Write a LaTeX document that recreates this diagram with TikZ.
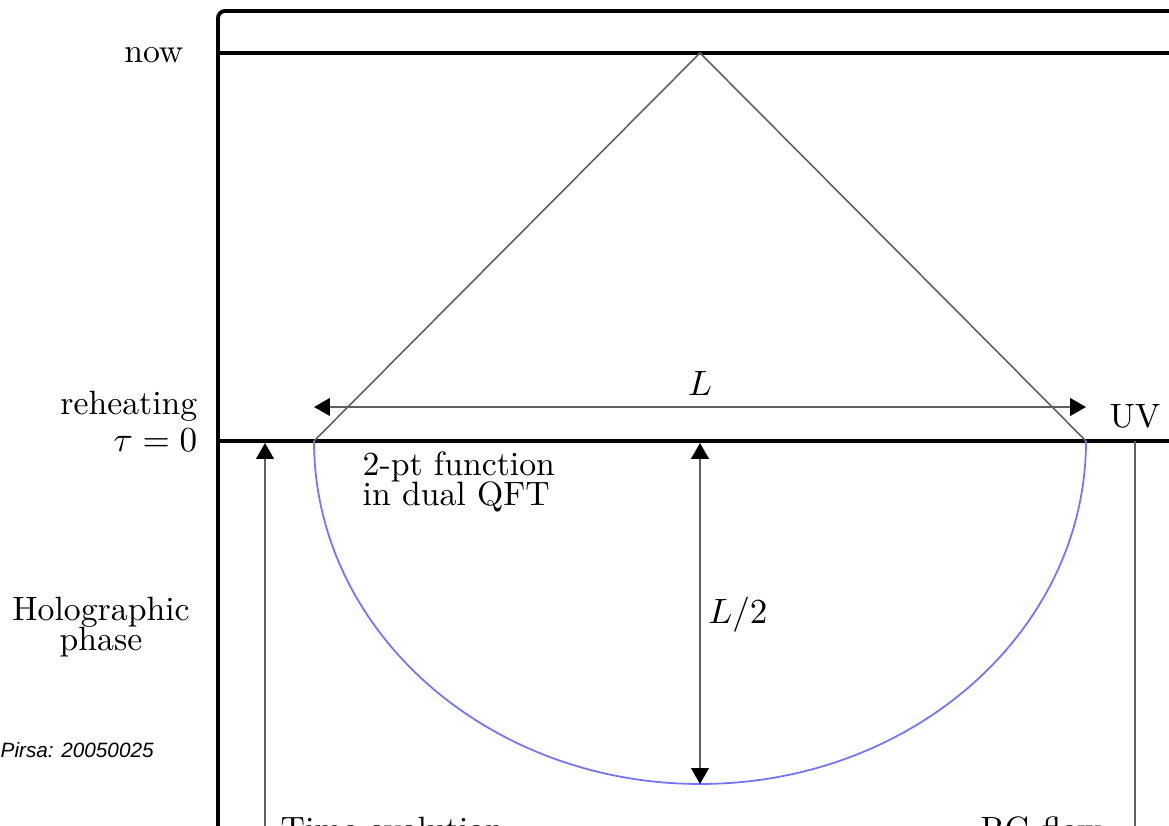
\documentclass[tikz,border=0pt]{standalone}
\usepackage{amsmath}
\usepackage{fontspec}
\newfontfamily\pirsafont{Liberation Sans}
\usetikzlibrary{arrows.meta}
\newcommand\tightlines{\lineskiplimit=-10pt\lineskip=0pt\relax}

\begin{document}
\begin{tikzpicture}[
    >={Triangle[length=4.5pt, width=5pt, color=black]},
    txt/.style={font=\fontsize{9.6pt}{8.6pt}\selectfont\tightlines, inner sep=0pt},
    era/.style={line width=1.1pt, black},
    cone/.style={line width=0.45pt, gray!75!black},
    dimarrow/.style={<->, line width=0.5pt, gray!75!black},
    flowline/.style={line width=0.5pt, gray!75!black},
    bulk/.style={line width=0.5pt, blue!55}
]
\clip (0,0) rectangle (11.69,8.26);

% ==========================================
% Frame & time slices
% ==========================================
\coordinate (corner) at (2.18, 8.15);
\coordinate (nowL) at (2.18, 7.73);
\coordinate (reheatL) at (2.18, 3.85);
\draw[era, rounded corners=2pt] (2.18, -0.5) -- (corner) -- (12.0, 8.15);
\draw[era] (nowL) -- (12.0, 7.73);
\draw[era] (reheatL) -- (12.0, 3.85);

% Slice labels
\node[txt, anchor=east] (now) at (1.84, 7.71) {now};
\node[txt, anchor=base east] (reheat) at (1.98, 4.11) {reheating};
\node[txt, anchor=base east] (tau) at (1.98, 3.74) {$\tau = 0$};
\node[txt, align=center] (holo) at (1.01, 1.99) {Holographic\\phase};

% ==========================================
% Light cone
% ==========================================
\coordinate (apex) at (7.00, 7.73);
\coordinate (baseL) at (3.14, 3.85);
\coordinate (baseR) at (10.86, 3.85);
\draw[cone] (baseL) -- (apex) -- (baseR);

% Separation L
\coordinate (Lleft) at (3.14, 4.19);
\coordinate (Lright) at (10.86, 4.19);
\draw[dimarrow] (Lleft) -- (Lright);
\node[txt] (Llbl) at (7.00, 4.42) {$L$};
\node[txt] (uv) at (11.35, 4.10) {UV};

% ==========================================
% Bulk geodesic
% ==========================================
\draw[bulk] (baseL) arc[start angle=180, end angle=360, x radius=3.86, y radius=3.43];
\coordinate (depthTop) at (7.00, 3.83);
\coordinate (depthBot) at (7.00, 0.42);
\draw[dimarrow] (depthTop) -- (depthBot);
\node[txt] (half) at (7.38, 2.11) {$L/2$};
\node[txt, anchor=north west, align=left] (twopt) at (3.62, 3.75) {2-pt function\\in dual QFT};

% ==========================================
% Time evolution / RG flow
% ==========================================
\coordinate (timeTop) at (2.65, 3.83);
\draw[flowline, ->] (2.65, -0.5) -- (timeTop);
\node[txt, anchor=base west] (timelbl) at (2.80, -0.15) {Time evolution};
\coordinate (rgTop) at (11.35, 3.85);
\draw[flowline] (rgTop) -- (11.35, -0.5);
\node[txt, anchor=base west] (rglbl) at (9.80, -0.15) {RG flow};

% Watermark
\node[font=\pirsafont\itshape\fontsize{5.9pt}{7pt}\selectfont, inner sep=0pt, anchor=west] (pirsa) at (0.0, 0.76) {Pirsa: 20050025};
\end{tikzpicture}
\end{document}
